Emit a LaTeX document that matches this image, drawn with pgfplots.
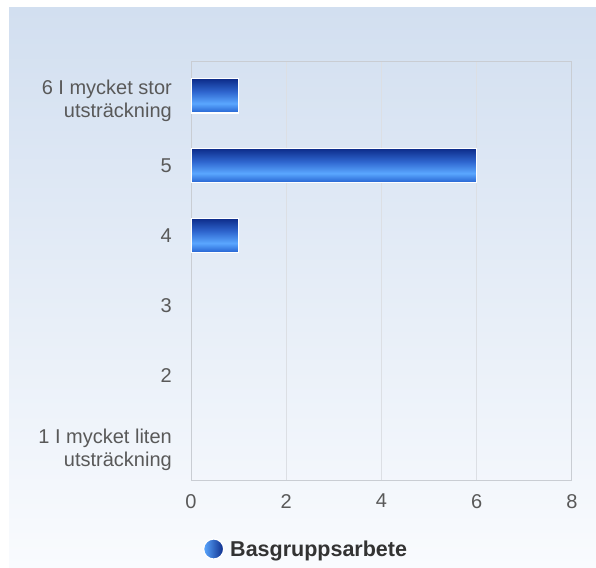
\documentclass[border=0pt]{standalone}
\usepackage{fontspec}
\setmainfont{Liberation Sans}
\usepackage{pgfplots}
\pgfplotsset{compat=1.18}
\definecolor{bgtop}{HTML}{D2DFF0}
\definecolor{bgbot}{HTML}{F9FBFE}
\definecolor{barA}{HTML}{0D2C8A}
\definecolor{barM}{HTML}{2F66CF}
\definecolor{barB}{HTML}{5AA7FF}
\definecolor{barC}{HTML}{2B6AD6}
\definecolor{legL}{HTML}{5AA7FF}
\definecolor{legR}{HTML}{0D2C8A}
\definecolor{txt}{HTML}{595959}
\definecolor{legtxt}{HTML}{333333}
\definecolor{framec}{HTML}{C9CDD3}
\definecolor{gridc}{HTML}{DCDFE4}
\pgfdeclareverticalshading{barshade}{100bp}{color(0bp)=(barC); color(27bp)=(barC); color(39bp)=(barB); color(56bp)=(barM); color(75bp)=(barA); color(100bp)=(barA)}
\begin{document}
\begin{tikzpicture}
\shade[top color=bgtop, bottom color=bgbot] (9bp,0) rectangle (596bp,560bp);
\begin{axis}[
  at={(191bp,88bp)}, anchor=south west, scale only axis,
  width=381bp, height=419bp,
  xbar, bar width=0.49, bar shift=0pt,
  xmin=0, xmax=8, ymin=0.5, ymax=6.5,
  xtick={0,2,4,6,8}, ytick={1,2,3,4,5,6},
  yticklabels={{\rule{0pt}{24bp}1 I mycket liten\\utsträckning},2,3,4,5,{\rule{0pt}{24bp}6 I mycket stor\\utsträckning}},
  yticklabel style={align=right, font=\fontsize{20bp}{23bp}\selectfont, text=txt, inner sep=0pt, xshift=-19bp},
  xticklabel style={font=\fontsize{20bp}{23bp}\selectfont, text=txt, inner sep=0pt, yshift=-14bp},
  major tick length=0pt, tick style={draw=none},
  axis line style={draw=framec, line width=1bp},
  xmajorgrids, grid style={draw=gridc, line width=1bp},
  /pgf/number format/assume math mode=true,
  legend style={at={(0.302,-0.1647)}, anchor=center, draw=none, fill=none,
    font=\bfseries\fontsize{21.5bp}{24bp}\selectfont, text=legtxt},
  barsty/.style={draw=white, line width=1.2bp, shading=barshade, shade},
]
\addplot[barsty,
  legend image code/.code={\shade[left color=legL, right color=legR] (0.5em,0) circle (10bp);
    \path (0.5em+14bp,0);}]
  coordinates {(1,6)};
\addlegendentry{Basgruppsarbete}
\addplot[barsty, forget plot] coordinates {(6,5)};
\addplot[barsty, forget plot] coordinates {(1,4)};
\end{axis}
\pgfresetboundingbox
\path (0,0) rectangle (596bp,568bp);
\end{tikzpicture}
\end{document}
